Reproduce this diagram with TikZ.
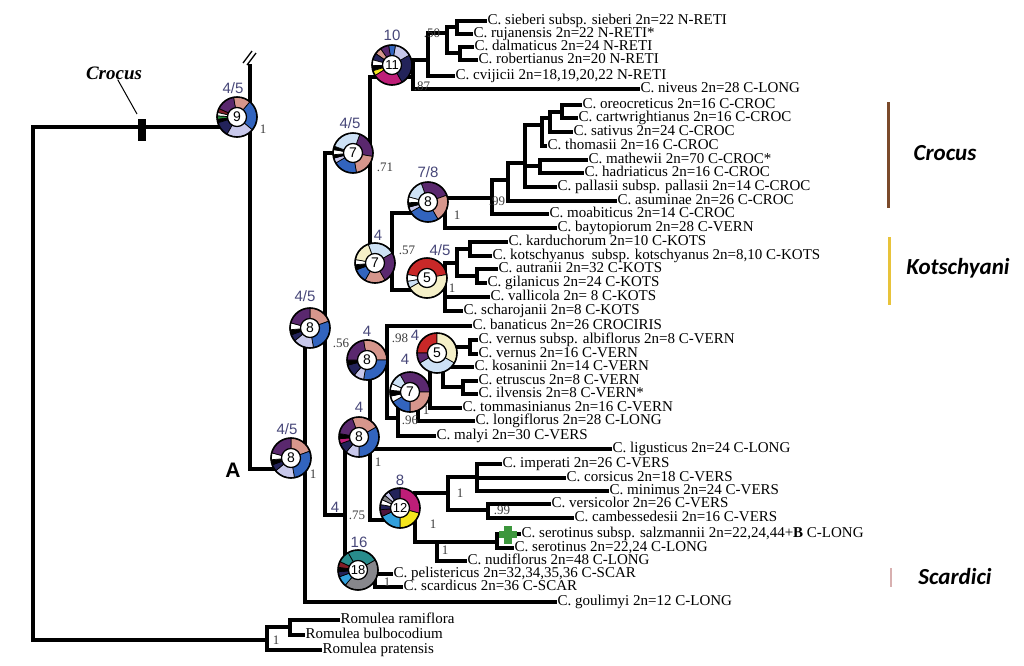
\documentclass[tikz,border=0pt]{standalone}
\usepackage{fontspec}
\setmainfont{Liberation Serif}
\setsansfont{Liberation Sans}
\newfontfamily\calibfont{Carlito}
\usetikzlibrary{positioning}
\definecolor{psalmon}{RGB}{214,150,140}
\definecolor{ppurple}{RGB}{90,40,110}
\definecolor{pblue}{RGB}{50,100,190}
\definecolor{plav}{RGB}{200,200,235}
\definecolor{plblue}{RGB}{205,225,245}
\definecolor{pnavy}{RGB}{35,35,90}
\definecolor{pred}{RGB}{200,40,40}
\definecolor{pcream}{RGB}{245,240,200}
\definecolor{pmagenta}{RGB}{190,30,120}
\definecolor{pyellow}{RGB}{245,230,30}
\definecolor{pteal}{RGB}{40,140,140}
\definecolor{pgray}{RGB}{135,135,140}
\definecolor{psky}{RGB}{50,160,220}
\definecolor{pdred}{RGB}{130,30,40}
\definecolor{pdpurple}{RGB}{80,20,60}
\definecolor{pgreen}{RGB}{40,140,60}
\definecolor{markgreen}{RGB}{60,150,60}
\definecolor{labc}{RGB}{70,70,120}
\definecolor{suppc}{RGB}{60,60,60}
\definecolor{barcroc}{RGB}{123,74,42}
\definecolor{barkots}{RGB}{232,195,58}
\definecolor{barscar}{RGB}{216,176,176}

% ring of ancestral states with the chromosome number in the middle
\newcommand{\ringpie}[4]{%
  \begin{scope}[shift={#2}]
    \foreach \angA/\angB/\segcol in {#4}
      \filldraw[fill=\segcol, draw=black, line width=0.7pt]
        (\angA:20pt) arc[start angle=\angA, end angle=\angB, radius=20pt]
        -- (\angB:9.5pt) arc[start angle=\angB, end angle=\angA, radius=9.5pt] -- cycle;
    \draw[line width=1.6pt] (0,0) circle[radius=20pt];
    \node[pienum] (#1) at (0,0) {#3};
  \end{scope}}

\begin{document}
\begin{tikzpicture}[
  x=1pt, y=-1pt,
  branch/.style={line width=3.2pt, line cap=rect},
  leaf/.style={anchor=west, inner xsep=2.5pt, inner ysep=0pt, text height=9pt, text depth=2.5pt, font=\fontsize{15}{15}\selectfont},
  supp/.style={inner sep=0pt, text=suppc, font=\fontsize{13}{13}\selectfont},
  plab/.style={inner sep=0pt, text=labc, font=\sffamily\fontsize{15}{15}\selectfont},
  pienum/.style={circle, draw, fill=white, line width=1.2pt, minimum size=19pt, inner sep=0pt, font=\sffamily\fontsize{14}{14}\selectfont},
  sect/.style={inner sep=0pt, font=\calibfont\bfseries\itshape\fontsize{23}{23}\selectfont}
]
\useasboundingbox (0,0) rectangle (1024,665);

% internal nodes
\coordinate (root) at (33,127);
\coordinate (crown) at (250,127);
\coordinate (cut) at (250,66);
\coordinate (nA) at (305,469);
\coordinate (nB) at (325,328);
\coordinate (nC) at (370,153);
\coordinate (nP11) at (413,77);
\coordinate (nR1) at (428,60);
\coordinate (nR2) at (447,33);
\coordinate (nR3) at (457,27);
\coordinate (nR4) at (460,53);
\coordinate (nQ) at (392,250);
\coordinate (nP) at (445,213);
\coordinate (nK1) at (492,198);
\coordinate (nK2) at (508,180);
\coordinate (nK3) at (525,163);
\coordinate (nK4) at (542,125);
\coordinate (nK5) at (540,166);
\coordinate (nK6) at (550,118);
\coordinate (nK7) at (562,112);
\coordinate (nS) at (445,290);
\coordinate (nS2) at (457,263);
\coordinate (nS1) at (470,249);
\coordinate (nS3) at (477,276);
\coordinate (nD) at (345,515);
\coordinate (nE) at (370,437);
\coordinate (nG) at (387,360);
\coordinate (nG2) at (398,418);
\coordinate (nK) at (418,395);
\coordinate (nL1) at (430,395);
\coordinate (nL2) at (443,355);
\coordinate (nV) at (470,347);
\coordinate (nEt) at (463,387);
\coordinate (nH) at (415,520);
\coordinate (nH2) at (448,493);
\coordinate (nV1) at (477,477);
\coordinate (nV2) at (488,510);
\coordinate (nH3) at (437,542);
\coordinate (nSer) at (497,542);
\coordinate (nF) at (375,572);
\coordinate (rom) at (267,640);
\coordinate (rom2) at (290,627);

% leaves
\node[leaf] (sieberi) at (485,21) {C. sieberi subsp. sieberi 2n=22 N-RETI};
\node[leaf] (rujanensis) at (471,34) {C. rujanensis 2n=22 N-RETI*};
\node[leaf] (dalmaticus) at (472,47) {C. dalmaticus 2n=24 N-RETI};
\node[leaf] (robertianus) at (476,60) {C. robertianus 2n=20 N-RETI};
\node[leaf] (cvijicii) at (453,76) {C. cvijicii 2n=18,19,20,22 N-RETI};
\node[leaf] (niveus) at (638,89) {C. niveus 2n=28 C-LONG};
\node[leaf] (oreocreticus) at (580,105) {C. oreocreticus 2n=16 C-CROC};
\node[leaf] (cartwrightianus) at (576,118) {C. cartwrightianus 2n=16 C-CROC};
\node[leaf] (sativus) at (571,132) {C. sativus 2n=24 C-CROC};
\node[leaf] (thomasii) at (545,146) {C. thomasii 2n=16 C-CROC};
\node[leaf] (mathewii) at (586,160) {C. mathewii 2n=70 C-CROC*};
\node[leaf] (hadriaticus) at (582,173) {C. hadriaticus 2n=16 C-CROC};
\node[leaf] (pallasii) at (555,187) {C. pallasii subsp. pallasii 2n=14 C-CROC};
\node[leaf] (asuminae) at (615,201) {C. asuminae 2n=26 C-CROC};
\node[leaf] (moabiticus) at (547,214) {C. moabiticus 2n=14 C-CROC};
\node[leaf] (baytopiorum) at (555,228) {C. baytopiorum 2n=28 C-VERN};
\node[leaf] (karduchorum) at (506,242) {C. karduchorum 2n=10 C-KOTS};
\node[leaf] (kotschyanus) at (490,256) {C. kotschyanus\ \ subsp. kotschyanus 2n=8,10 C-KOTS};
\node[leaf] (autranii) at (496,269) {C. autranii 2n=32 C-KOTS};
\node[leaf] (gilanicus) at (485,283) {C. gilanicus 2n=24 C-KOTS};
\node[leaf] (vallicola) at (488,297) {C. vallicola 2n=\ 8 C-KOTS};
\node[leaf] (scharojanii) at (461,311) {C. scharojanii 2n=8 C-KOTS};
\node[leaf] (banaticus) at (470,326) {C. banaticus 2n=26 CROCIRIS};
\node[leaf] (albiflorus) at (476,340) {C. vernus subsp. albiflorus 2n=8 C-VERN};
\node[leaf] (vernus) at (476,354) {C. vernus 2n=16 C-VERN};
\node[leaf] (kosaninii) at (472,367) {C. kosaninii 2n=14 C-VERN};
\node[leaf] (etruscus) at (476,381) {C. etruscus 2n=8 C-VERN};
\node[leaf] (ilvensis) at (476,394) {C. ilvensis 2n=8 C-VERN*};
\node[leaf] (tommasinianus) at (460,408) {C. tommasinianus 2n=16 C-VERN};
\node[leaf] (longiflorus) at (473,421) {C. longiflorus 2n=28 C-LONG};
\node[leaf] (malyi) at (434,436) {C. malyi 2n=30 C-VERS};
\node[leaf] (ligusticus) at (610,449) {C. ligusticus 2n=24 C-LONG};
\node[leaf] (imperati) at (500,464) {C. imperati 2n=26 C-VERS};
\node[leaf] (corsicus) at (564,478) {C. corsicus 2n=18 C-VERS};
\node[leaf] (minimus) at (607,491) {C. minimus 2n=24 C-VERS};
\node[leaf] (versicolor) at (549,504) {C. versicolor 2n=26 C-VERS};
\node[leaf] (cambessedesii) at (572,518) {C. cambessedesii 2n=16 C-VERS};
\node[leaf] (salzmannii) at (519,534) {C. serotinus subsp. salzmannii 2n=22,24,44+\textbf{B} C-LONG};
\node[leaf] (serotinus) at (512,548) {C. serotinus 2n=22,24 C-LONG};
\node[leaf] (nudiflorus) at (465,561) {C. nudiflorus 2n=48 C-LONG};
\node[leaf] (pelistericus) at (391,574) {C. pelistericus 2n=32,34,35,36 C-SCAR};
\node[leaf] (scardicus) at (401,587) {C. scardicus 2n=36 C-SCAR};
\node[leaf] (goulimyi) at (555,602) {C. goulimyi 2n=12 C-LONG};
\node[leaf] (ramiflora) at (338,620) {Romulea ramiflora};
\node[leaf] (bulbocodium) at (303,635) {Romulea bulbocodium};
\node[leaf] (pratensis) at (320,650) {Romulea pratensis};

% branches
\foreach \upn/\dnn in {root/crown, root/rom, crown/cut, crown/nA,
  nA/nB, nA/goulimyi, nB/nC, nB/nD, nC/nP11, nC/nQ,
  nP11/nR1, nP11/niveus, nR1/nR2, nR1/cvijicii, nR2/nR3, nR2/nR4,
  nR3/sieberi, nR3/rujanensis, nR4/dalmaticus, nR4/robertianus,
  nQ/nP, nQ/nS, nP/nK1, nP/baytopiorum, nK1/nK2, nK1/moabiticus,
  nK2/nK3, nK2/asuminae, nK3/nK4, nK3/nK5, nK3/pallasii,
  nK4/nK6, nK4/thomasii, nK6/nK7, nK6/sativus,
  nK7/oreocreticus, nK7/cartwrightianus, nK5/mathewii, nK5/hadriaticus,
  nS/nS2, nS/vallicola, nS/scharojanii, nS2/nS1, nS2/nS3,
  nS1/karduchorum, nS1/kotschyanus, nS3/autranii, nS3/gilanicus,
  nD/nE, nD/nF, nE/nG, nE/ligusticus, nE/nH,
  nG/banaticus, nG/nG2, nG2/nK, nG2/malyi, nK/nL1, nK/longiflorus,
  nL1/nL2, nL1/tommasinianus, nL2/nV, nL2/kosaninii, nL2/nEt,
  nV/albiflorus, nV/vernus, nEt/etruscus, nEt/ilvensis,
  nH/nH2, nH/nH3, nH2/nV1, nH2/nV2,
  nV1/imperati, nV1/corsicus, nV1/minimus, nV2/versicolor, nV2/cambessedesii,
  nH3/nSer, nH3/nudiflorus, nSer/salzmannii, nSer/serotinus,
  nF/pelistericus, nF/scardicus,
  rom/rom2, rom/pratensis, rom2/ramiflora, rom2/bulbocodium}
  \draw[branch] (\upn) |- (\dnn);

% break mark and the Crocus stem marker
\draw[line width=1.3pt] (243,63) -- (252,51);
\draw[line width=1.3pt] (247,65) -- (256,53);
\fill (138,119) rectangle (146,141);
\node[inner sep=0pt, font=\bfseries\itshape\fontsize{19}{19}\selectfont] (crocuslab) at (114,73) {Crocus};
\coordinate (tick) at (137,114);
\draw[line width=1pt] (crocuslab) -- (tick);
\fill[markgreen] (504,526) rectangle (512,544);
\fill[markgreen] (499,531) rectangle (517,538);

% ancestral-state rings
\ringpie{p9}{(237,117)}{9}{-40/50/pblue, 50/100/psalmon, 100/155/ppurple, 155/167/pdred, 167/177/white, 177/187/pgreen, 187/197/black, 197/240/pnavy, 240/320/plav}
\ringpie{p11}{(392,65)}{\fontsize{13}{13}\selectfont 11}{-60/30/pnavy, 30/80/plav, 80/100/pblue, 100/125/ppurple, 125/145/psalmon, 145/165/pnavy, 165/182/white, 182/197/black, 197/212/pyellow, 212/300/pmagenta}
\ringpie{p7a}{(353,153)}{7}{-10/70/ppurple, -80/-10/psalmon, 210/280/pblue, 195/210/plav, 185/195/black, 170/185/white, 160/170/black, 70/160/plblue}
\ringpie{p8a}{(428,202)}{8}{20/110/ppurple, -60/20/psalmon, 210/300/pblue, 195/210/plav, 182/195/black, 165/182/white, 110/165/plblue}
\ringpie{p7b}{(375,263)}{7}{30/110/plblue, -60/30/ppurple, -120/-60/psalmon, 200/240/pblue, 185/200/black, 170/185/white, 110/170/pcream}
\ringpie{p5a}{(427,278)}{5}{10/170/pred, 170/190/white, 190/210/plblue, 210/370/pcream}
\ringpie{p8b}{(310,328)}{8}{20/90/psalmon, -80/20/pblue, 220/280/plav, 200/220/pnavy, 185/200/black, 165/185/white, 90/165/ppurple}
\ringpie{p8c}{(367,360)}{8}{0/100/psalmon, -100/0/pblue, 230/260/plav, 195/230/pnavy, 180/195/black, 100/180/ppurple}
\ringpie{p5b}{(437,353)}{5}{90/180/pred, -30/90/pcream, 210/330/plblue, 180/210/ppurple}
\ringpie{p7c}{(410,392)}{7}{0/120/ppurple, -90/0/psalmon, 210/270/pblue, 192/210/white, 175/192/black, 155/175/white, 120/155/plblue}
\ringpie{p8d}{(291,458)}{8}{20/90/psalmon, -80/20/pblue, 220/280/plav, 200/220/pnavy, 185/200/black, 165/185/white, 90/165/ppurple}
\ringpie{p8e}{(359,437)}{8}{30/110/psalmon, -90/30/pblue, 230/270/plav, 200/230/pnavy, 185/200/pmagenta, 170/185/black, 110/170/ppurple}
\ringpie{p12}{(400,508)}{\fontsize{13}{13}\selectfont 12}{-15/90/pmagenta, -90/-15/pyellow, 205/270/psky, 185/205/pdpurple, 170/185/pnavy, 155/170/white, 140/155/pgray, 125/140/plav, 90/125/pnavy}
\ringpie{p18}{(358,570)}{\fontsize{13}{13}\selectfont 18}{30/120/pteal, -130/30/pgray, 200/230/psky, 185/200/pnavy, 172/185/black, 155/172/pdred, 120/155/pteal}

% numbers above the rings
\node[plab] (l9) at (233,88) {4/5};
\node[plab] (l11) at (392,35) {10};
\node[plab] (l7a) at (350,123) {4/5};
\node[plab] (l8a) at (428,172) {7/8};
\node[plab] (l7b) at (378,235) {4};
\node[plab] (l5a) at (440,250) {4/5};
\node[plab] (l8b) at (305,296) {4/5};
\node[plab] (l8c) at (367,331) {4};
\node[plab] (l5b) at (415,335) {4};
\node[plab] (l7c) at (405,359) {4};
\node[plab] (l8d) at (287,429) {4/5};
\node[plab] (l8e) at (359,407) {4};
\node[plab] (lbd) at (335,507) {4};
\node[plab] (l12) at (400,480) {8};
\node[plab] (l18) at (359,542) {16};
\node[inner sep=0pt, font=\sffamily\bfseries\fontsize{21}{21}\selectfont] (clA) at (233,470) {A};

% support values
\node[supp] (s9) at (263,129) {1};
\node[supp] (s50) at (432,33) {.50};
\node[supp] (s87) at (422,86) {.87};
\node[supp] (s71) at (385,167) {.71};
\node[supp] (s8a) at (457,215) {1};
\node[supp] (s99a) at (497,201) {.99};
\node[supp] (s57) at (407,250) {.57};
\node[supp] (s5a) at (452,288) {1};
\node[supp] (s56) at (341,343) {.56};
\node[supp] (s98) at (400,338) {.98};
\node[supp] (s7c) at (426,410) {1};
\node[supp] (s96) at (410,420) {.96};
\node[supp] (sA) at (313,474) {1};
\node[supp] (s8e) at (378,462) {1};
\node[supp] (s75) at (357,515) {.75};
\node[supp] (s12) at (433,524) {1};
\node[supp] (sv1) at (460,493) {1};
\node[supp] (s99b) at (502,510) {.99};
\node[supp] (sh3) at (445,550) {1};
\node[supp] (s18) at (387,582) {1};
\node[supp] (srom) at (276,640) {1};

% sections on the right
\draw[line width=3pt, barcroc] (888,102) -- (888,208);
\draw[line width=3pt, barkots] (889,237) -- (889,305);
\draw[line width=2pt, barscar] (891,568) -- (891,587);
\node[sect] (seccroc) at (945,153) {Crocus};
\node[sect] (seckots) at (958,268) {Kotschyani};
\node[sect] (secscar) at (955,577) {Scardici};
\end{tikzpicture}
\end{document}
